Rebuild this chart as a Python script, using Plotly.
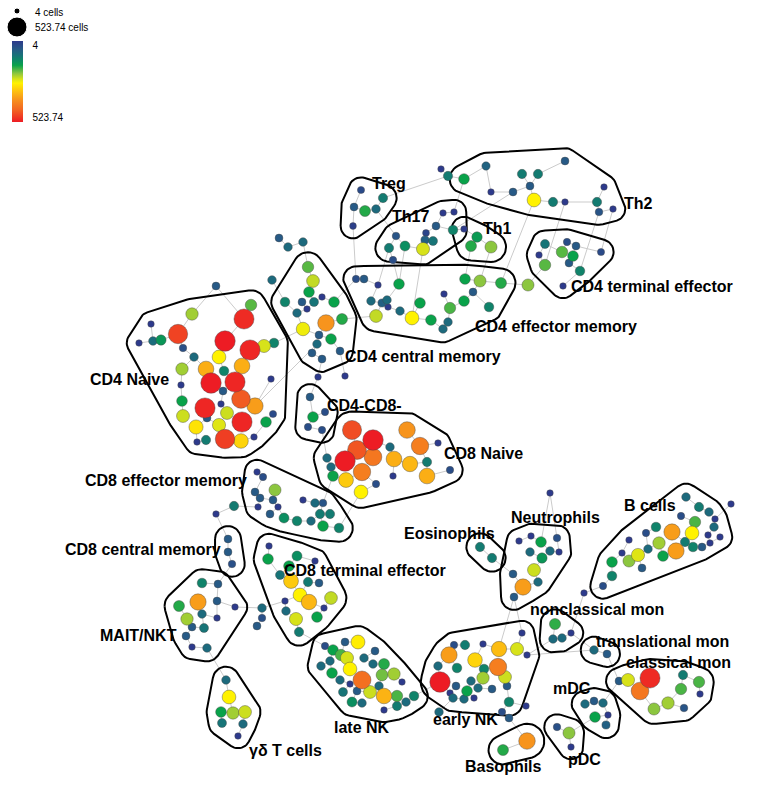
import numpy as np
import plotly.graph_objects as go

VMIN, VMAX = 4.0, 523.74

# Each node: (x, y, position on colour scale 0..1); cell count = VMIN + s*(VMAX-VMIN)
TREG = [(361,190,.05),(383,198,.2),(354,207,.1),(365,211,.32),(376,209,.15),(353,226,.02)]
TH17 = [(443,213,0),(454,212,0),(436,226,.1),(396,236,.08),(426,233,.03),(425,240,.12),
        (433,241,.18),(453,230,.22),(389,248,.2),(405,246,.25),(423,249,.47)]
TH1 = [(464,229,0),(477,237,.28),(471,246,.32),(491,247,.4)]
TH2 = [(464,179,.3),(486,166,.13),(491,192,0),(513,192,.1),(522,174,.2),(538,174,.2),
       (530,186,.1),(534,200,.52),(553,202,.2),(565,161,.1),(565,202,0),(604,187,0),
       (597,202,.2),(599,212,.08),(613,209,0)]
CD4_TE = [(545,244,.18),(567,242,.06),(576,246,.1),(562,252,.36),(573,256,.3),(539,255,0),
          (545,265,.36),(569,263,.1),(580,271,.22),(601,252,.05),(563,286,0)]
CD4_EM = [(356,279,.06),(364,279,.1),(378,285,0),(399,284,.3),(371,301,.15),(382,303,.12),
          (387,300,.15),(388,307,0),(400,311,.15),(376,316,.45),(412,318,.52),(420,303,.3),
          (431,320,.3),(448,322,.15),(443,329,.15),(444,294,0),(450,308,.35),(464,301,.3),
          (473,292,.1),(465,279,.3),(480,281,.4),(501,283,.32),(489,307,.22)]
CD4_CM = [(308,267,.36),(313,281,.45),(309,292,.3),(322,297,0),(285,302,.22),(302,302,.1),
          (314,302,.18),(334,302,.3),(297,313,.15),(307,309,0),(326,323,.72),(303,329,.5),
          (342,319,.32),(331,339,.3),(319,335,.1),(317,344,.15),(340,351,.1),(312,353,.1),
          (322,359,.1)]
CD4_NAIVE = [(192,314,.42),(251,305,.36),(244,319,.97),(151,324,0),(178,334,.92),(225,341,1),
             (139,343,0),(153,341,.16),(161,340,.27),(250,350,.98),(264,346,.47),(274,343,.22),
             (183,348,.07),(194,357,.15),(219,357,.52),(242,366,.66),(206,369,.66),(182,369,.42),
             (224,371,.22),(211,383,1),(235,382,.98),(181,385,0),(271,379,0),(223,391,.1),
             (241,399,.87),(255,406,.7),(182,401,.3),(205,408,.98),(221,404,0),(227,413,.46),
             (183,416,.46),(207,418,.1),(273,414,.05),(242,422,.98),(219,425,.48),(266,422,.3),
             (196,427,.55),(225,439,.93),(241,441,.58),(206,440,.2),(197,442,0),(254,437,0)]
CD4CD8N = [(310,397,.1),(325,412,.06),(313,417,.3),(308,427,.06),(322,430,.06)]
CD8_NAIVE = [(352,430,.9),(407,430,.72),(373,440,1),(390,447,.15),(420,446,.78),(438,443,0),
             (357,450,.88),(345,461,1),(373,457,.8),(327,458,.15),(394,459,.66),(410,464,.64),
             (427,462,.2),(331,467,.15),(362,472,.78),(333,476,.3),(346,480,.6),(427,476,.66),
             (450,470,.06),(393,476,0),(376,484,.06),(361,492,.52)]
CD8_EM = [(257,472,0),(263,477,.06),(275,490,.4),(255,492,.1),(260,498,.1),(273,500,.1),
          (258,507,0),(278,507,0),(270,514,.1),(284,518,.25),(303,500,0),(297,521,.22),
          (311,521,.15),(315,503,.15),(323,503,.08),(320,514,.2),(330,514,.2),(323,526,.3),
          (339,528,.22)]
CD8_CM = [(228,539,.1),(228,552,.1),(232,564,.07)]
MAIT = [(202,583,.22),(218,584,.1),(198,602,.7),(217,601,.1),(179,606,.32),(202,614,.15),
        (235,607,0),(217,618,0),(187,619,.42),(192,627,.1),(204,628,.18),(186,636,.1),
        (192,647,0),(207,648,.15)]
CD8_TE = [(269,546,0),(268,559,.3),(297,556,.25),(315,561,0),(289,566,.3),(280,575,.18),
          (291,581,.6),(308,582,.2),(319,583,.1),(300,595,.52),(309,602,.64),(331,598,.45),
          (285,601,0),(286,611,.15),(324,608,0),(296,619,.47),(317,617,.3),(299,632,.2)]
LATE_NK = [(358,642,.53),(345,642,.1),(325,646,.06),(333,650,.3),(341,655,.35),(347,658,.47),
           (375,651,.1),(364,658,.15),(321,666,.15),(330,661,.15),(350,669,.52),(332,673,.3),
           (373,664,.15),(384,664,.32),(362,680,.82),(382,675,.38),(394,674,.42),(340,680,.15),
           (350,684,0),(402,682,0),(379,686,.15),(343,692,.18),(357,691,.1),(370,692,.46),
           (384,696,.65),(397,696,.35),(414,696,.22),(352,702,.25),(362,703,.15),(397,706,.2),
           (406,702,.15),(384,710,0)]
EOSIN = [(480,547,.2),(492,558,.2)]
NEUTRO = [(519,541,0),(531,536,0),(541,542,.3),(557,538,.07),(530,552,.15),(550,551,.15),
          (559,552,0),(542,558,.27),(534,570,.46),(513,574,.1),(538,582,.15),(523,587,.7),
          (514,597,.1)]
NONCLASS = [(555,624,.33),(553,639,.15),(562,638,.15),(571,633,0)]
TRANS = [(594,650,.15),(607,654,.1)]
CLASSICAL = [(619,681,.1),(628,680,.47),(650,678,.97),(640,691,.8),(683,675,.2),(699,682,.35),
             (681,689,.35),(700,694,0),(668,703,.42),(654,709,.4),(684,708,.08)]
MDC = [(585,704,.15),(594,701,.1),(603,703,.15),(595,717,.3),(608,715,0),(606,725,.12)]
PDC = [(557,727,.07),(569,733,.4),(571,747,0)]
BASO = [(503,750,.32),(527,741,.72)]
EARLY_NK = [(522,633,0),(454,645,.06),(465,645,.2),(483,644,0),(499,649,.63),(517,649,.47),
            (449,655,.7),(475,660,.58),(498,667,.78),(527,655,0),(438,666,.15),(457,668,.22),
            (484,669,.22),(483,678,.42),(505,677,.46),(440,682,1),(471,681,.15),(456,686,.1),
            (467,691,.3),(478,688,.15),(492,689,.1),(507,686,.1),(450,693,0),(453,698,.15),
            (464,699,.15),(474,698,0),(509,702,.22)]
B_CELLS = [(686,497,.15),(699,507,.2),(681,516,.06),(709,512,.15),(695,522,.35),(715,519,0),
           (656,527,.22),(672,532,.7),(692,533,.52),(714,527,.15),(646,533,.06),(629,540,0),
           (659,543,.42),(685,542,.2),(708,535,0),(720,537,0),(710,543,0),(648,549,.15),
           (693,547,.22),(702,547,.1),(676,551,.7),(622,553,0),(663,556,.3),(638,555,.48),
           (629,561,.4),(612,562,.3),(642,568,.1),(612,576,.22),(603,586,.06)]
GD_T = [(226,680,.15),(229,697,.52),(221,712,.3),(233,713,.42),(245,712,.46),(222,723,.18),
        (243,724,.15),(238,736,0)]
UNASSIGNED = [(216,286,.1),(279,238,.1),(288,247,.15),(303,242,.15),(272,280,.15),(318,377,0),
              (345,376,0),(441,169,0),(448,176,.2),(393,260,.06),(528,285,.4),(234,506,.2),
              (216,514,0),(262,608,.15),(262,618,.07),(257,626,.1),(550,493,0),(584,593,0),
              (731,504,0),(439,712,.15),(502,712,.06),(509,718,.1),(526,706,0)]

CLUSTER_NAMES = ["Treg","Th17","Th1","Th2","CD4 terminal effector","CD4 effector memory",
                 "CD4 central memory","CD4 Naive","CD4-CD8-","CD8 Naive","CD8 effector memory",
                 "CD8 central memory","MAIT/NKT","CD8 terminal effector","late NK","Eosinophils",
                 "Neutrophils","nonclassical mon","translational mon","classical mon","mDC","pDC",
                 "Basophils","early NK","B cells","γδ T cells"]
CLUSTER_NODES = [TREG,TH17,TH1,TH2,CD4_TE,CD4_EM,CD4_CM,CD4_NAIVE,CD4CD8N,CD8_NAIVE,CD8_EM,
                 CD8_CM,MAIT,CD8_TE,LATE_NK,EOSIN,NEUTRO,NONCLASS,TRANS,CLASSICAL,MDC,PDC,
                 BASO,EARLY_NK,B_CELLS,GD_T]
LABEL_X = [389,410,497,638,652,556,423,129,364,483,166,143,138,365,362,449,555,597,662,678,572,584,503,465,650,285]
LABEL_Y = [183,216,228,203,286,326,356,379,405,453,480,549,635,570,727,533,517,609,641,662,688,759,766,719,505,750]

# additional (longer) links of the graph, as (group, index) pairs
EXTRA_EDGES = [((TREG,5),(CD4_EM,0)), ((TREG,1),(UNASSIGNED,8)), ((TH17,8),(CD4_EM,2)),
               ((TH17,9),(CD4_EM,3)), ((TH17,10),(CD4_EM,10)), ((TH17,7),(TH2,3)),
               ((TH1,2),(CD4_EM,19)), ((TH1,3),(CD4_EM,20)), ((TH2,7),(CD4_EM,21)),
               ((TH2,10),(CD4_TE,6)), ((TH2,13),(CD4_TE,8)), ((TH2,14),(CD4_TE,9)),
               ((CD4_NAIVE,25),(CD4_CM,15)), ((CD4_NAIVE,2),(UNASSIGNED,0)),
               ((NEUTRO,12),(EARLY_NK,4)), ((EARLY_NK,9),(TRANS,0)), ((CD4_EM,9),(CD4_CM,12)),
               ((CD8_NAIVE,21),(CD8_EM,18)), ((NEUTRO,2),(UNASSIGNED,16))]

COLORSCALE = [[0.0,'#2d3a8c'],[0.1,'#275a86'],[0.17,'#19707a'],[0.24,'#0c8a64'],[0.3,'#09a24a'],
              [0.4,'#8cc63f'],[0.47,'#d7e21a'],[0.52,'#fff200'],[0.62,'#fdc010'],[0.72,'#f7941d'],
              [0.85,'#f26522'],[1.0,'#ed1c24']]

all_nodes = [n for c in CLUSTER_NODES for n in c] + UNASSIGNED
X = np.array([n[0] for n in all_nodes], float)
Y = np.array([n[1] for n in all_nodes], float)
S = np.array([n[2] for n in all_nodes], float)
V = VMIN + S * (VMAX - VMIN)
D = 6.5 + 14.0 * (V - VMIN) / (VMAX - VMIN)

# minimum spanning tree for the edges
n = len(X)
P = np.stack([X, Y], 1)
dist = np.sqrt(((P[:, None, :] - P[None, :, :]) ** 2).sum(-1))
in_tree = np.zeros(n, bool); in_tree[0] = True
best = dist[0].copy(); parent = np.zeros(n, int)
ex, ey = [], []
for _ in range(n - 1):
    b = np.where(in_tree, np.inf, best)
    j = int(np.argmin(b))
    in_tree[j] = True
    i = parent[j]
    ex += [X[i], X[j], None]; ey += [Y[i], Y[j], None]
    upd = dist[j] < best
    best = np.where(upd, dist[j], best)
    parent = np.where(upd & ~in_tree, j, parent)
for (g1, i1), (g2, i2) in EXTRA_EDGES:
    ex += [g1[i1][0], g2[i2][0], None]; ey += [g1[i1][1], g2[i2][1], None]

def convex_hull(pts):
    pts = sorted(set(pts))
    if len(pts) <= 2:
        return pts
    def cross(o, a, b):
        return (a[0]-o[0])*(b[1]-o[1]) - (a[1]-o[1])*(b[0]-o[0])
    lower, upper = [], []
    for p in pts:
        while len(lower) >= 2 and cross(lower[-2], lower[-1], p) <= 0:
            lower.pop()
        lower.append(p)
    for p in reversed(pts):
        while len(upper) >= 2 and cross(upper[-2], upper[-1], p) <= 0:
            upper.pop()
        upper.append(p)
    return lower[:-1] + upper[:-1]

fig = go.Figure()
fig.add_trace(go.Scatter(x=ex, y=ey, mode='lines', line=dict(color='#cbcbcb', width=1),
                         hoverinfo='skip', showlegend=False))

ang = np.linspace(0, 2*np.pi, 40, endpoint=False)
hx, hy = [], []
for nodes in CLUSTER_NODES:
    pts = []
    for (x, y, s) in nodes:
        r = (6.5 + 14.0*s)/2 + 9
        for a in ang:
            pts.append((round(x + r*np.cos(a), 2), round(y + r*np.sin(a), 2)))
    h = convex_hull(pts)
    h = h + [h[0]]
    hx += [p[0] for p in h] + [None]
    hy += [p[1] for p in h] + [None]
fig.add_trace(go.Scatter(x=hx, y=hy, mode='lines', line=dict(color='black', width=2),
                         hoverinfo='skip', showlegend=False))

order = np.argsort(V)
fig.add_trace(go.Scatter(x=X[order], y=Y[order], mode='markers', showlegend=False,
                         marker=dict(size=D[order], color=V[order], cmin=VMIN, cmax=VMAX,
                                     colorscale=COLORSCALE, showscale=False, opacity=1,
                                     line=dict(color='rgba(70,70,70,0.7)', width=0.6)),
                         hovertemplate='%{marker.color:.0f} cells<extra></extra>'))

# colour legend (top = 4, bottom = 523.74)
rev = [[1 - c[0], c[1]] for c in COLORSCALE][::-1]
fig.add_trace(go.Scatter(x=[-500], y=[-500], mode='markers', showlegend=False, hoverinfo='skip',
                         marker=dict(color=[0.5], cmin=0, cmax=1, colorscale=rev, showscale=True,
                                     colorbar=dict(thickness=11, len=81, lenmode='pixels',
                                                   x=12/764, xanchor='left', y=1-41/786, yanchor='top',
                                                   xpad=0, ypad=0, outlinewidth=0,
                                                   tickvals=[0.06, 0.94], ticktext=['523.74', '4'],
                                                   ticks='outside', ticklen=8, tickcolor='rgba(0,0,0,0)',
                                                   tickfont=dict(size=10, color='black',
                                                                 family='Liberation Sans, Arial')))))

# size legend
SIZE_LEGEND_VALUES = [4, 523.74]
fig.add_trace(go.Scatter(x=[17, 17], y=[11, 27], mode='markers', showlegend=False, hoverinfo='skip',
                         marker=dict(size=[6, 20], color='black', opacity=1)))
annotations = []
for val, yy in zip(SIZE_LEGEND_VALUES, [12, 27]):
    annotations.append(dict(x=33, y=yy, text=f"{val:g} cells", showarrow=False, xanchor='left',
                            yanchor='middle', font=dict(size=10, color='black',
                                                        family='Liberation Sans, Arial')))

for name, lx, ly in zip(CLUSTER_NAMES, LABEL_X, LABEL_Y):
    annotations.append(dict(x=lx, y=ly, text=f"<b>{name}</b>", showarrow=False,
                            xanchor='center', yanchor='middle',
                            font=dict(size=16, color='black', family='Liberation Sans, Arial')))

fig.update_layout(width=764, height=786, margin=dict(l=0, r=0, t=0, b=0),
                  paper_bgcolor='white', plot_bgcolor='white', annotations=annotations,
                  xaxis=dict(range=[0, 764], visible=False, fixedrange=True),
                  yaxis=dict(range=[786, 0], visible=False, fixedrange=True),
                  hovermode='closest')
fig.write_html("out.html")
